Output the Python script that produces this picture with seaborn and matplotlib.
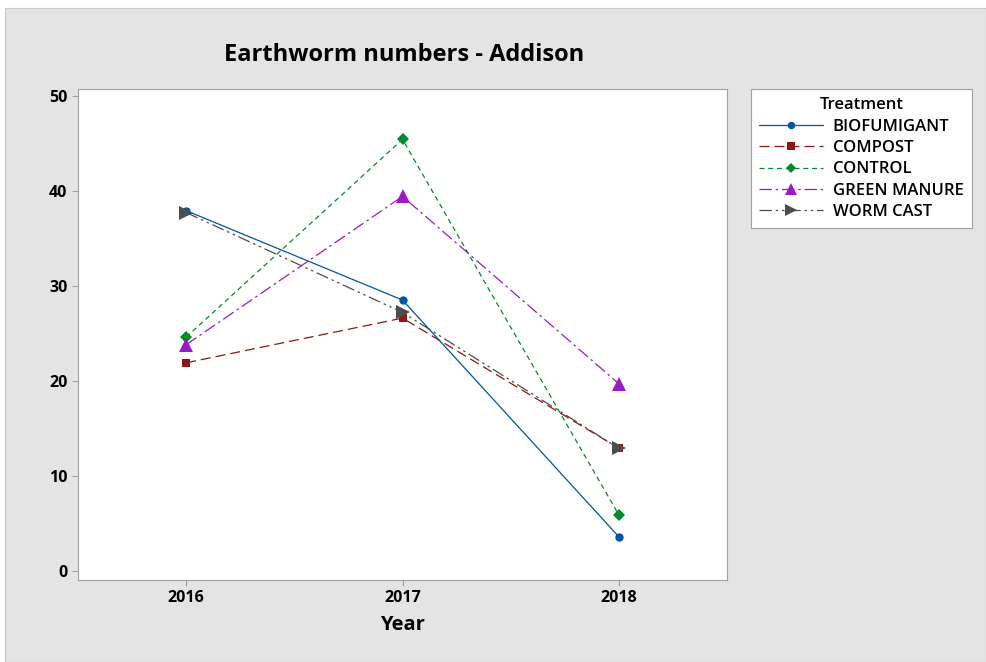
import pandas as pd
import numpy as np
import matplotlib
matplotlib.use('Agg')
import matplotlib.pyplot as plt
import seaborn as sns
from matplotlib.patches import Rectangle
from matplotlib.lines import Line2D

##### データ
years = [2016, 2017, 2018]
treatments = ['BIOFUMIGANT', 'COMPOST', 'CONTROL', 'GREEN MANURE', 'WORM CAST']
biofumigant = [37.9, 28.5, 3.6]
compost = [21.9, 26.6, 12.9]
control = [24.6, 45.4, 5.9]
green_manure = [23.8, 39.4, 19.7]
worm_cast = [37.7, 27.2, 12.9]

df = pd.DataFrame({
    'Year': years * 5,
    'Treatment': np.repeat(treatments, 3),
    'Count': biofumigant + compost + control + green_manure + worm_cast,
})

##### スタイル
palette = {'BIOFUMIGANT': '#0055A5', 'COMPOST': '#8E1616', 'CONTROL': '#008A2E',
           'GREEN MANURE': '#9A1AC8', 'WORM CAST': '#4D4D4D'}
markers = {'BIOFUMIGANT': 'o', 'COMPOST': 's', 'CONTROL': 'D',
           'GREEN MANURE': '^', 'WORM CAST': '>'}
msizes = {'BIOFUMIGANT': 6, 'COMPOST': 6, 'CONTROL': 6, 'GREEN MANURE': 10, 'WORM CAST': 10}
dashes = {'BIOFUMIGANT': '', 'COMPOST': (8, 4), 'CONTROL': (4, 3),
          'GREEN MANURE': (10, 3, 2, 3), 'WORM CAST': (10, 3, 2, 3, 2, 3)}

sns.set_style('ticks')
plt.rcParams['font.family'] = ['Open Sans', 'DejaVu Sans']
plt.rcParams['text.color'] = 'black'
plt.rcParams['axes.labelcolor'] = 'black'

fig = plt.figure(figsize=(9.86, 6.62), dpi=100)
fig.patch.set_facecolor('white')
fig.patches.append(Rectangle((5/986, 0), 981/986, 1 - 8/662, transform=fig.transFigure,
                             facecolor='#E4E4E4', edgecolor='#C8C8C8', lw=0.8, zorder=-10))
ax = fig.add_axes([78/986, 1 - 580/662, 649/986, 491/662])
ax.set_facecolor('white')

for t in treatments:
    sub = df[df['Treatment'] == t]
    sns.lineplot(data=sub, x='Year', y='Count', color=palette[t], marker=markers[t],
                 markersize=msizes[t], markeredgewidth=0, lw=0.9, ax=ax, legend=False)
    ax.lines[-1].set_linestyle('-' if not dashes[t] else (0, dashes[t]))

ax.set_xlim(2015.5, 2018.5)
ax.set_ylim(-0.95, 50.7)
ax.set_xticks(years)
ax.set_xticklabels([str(y) for y in years], fontsize=11.5, fontweight='bold')
ax.set_yticks([0, 10, 20, 30, 40, 50])
ax.set_yticklabels(['0', '10', '20', '30', '40', '50'], fontsize=11.5, fontweight='bold')
ax.set_xlabel('Year', fontsize=14.5, fontweight='bold', labelpad=6)
ax.set_ylabel('')
for s in ax.spines.values():
    s.set_color('#A0A0A0')
    s.set_linewidth(0.8)
ax.tick_params(colors='#A0A0A0', labelcolor='black', length=4)

fig.text(404/986, 1 - 55/662, 'Earthworm numbers - Addison', ha='center', va='center',
         fontsize=17, fontweight='bold', color='black')

handles = [Line2D([], [], color=palette[t], marker=markers[t], markersize=msizes[t] * 0.9,
                  markeredgewidth=0, lw=0.9,
                  linestyle='-' if not dashes[t] else (0, dashes[t])) for t in treatments]
leg = fig.legend(handles, treatments, title='Treatment', loc='upper left',
                 bbox_to_anchor=(751/986, 1 - 89/662), borderaxespad=0,
                 frameon=True, fancybox=False,
                 fontsize=12, title_fontsize=12, handlelength=3.8,
                 borderpad=0.5, labelspacing=0.32, handletextpad=0.6, framealpha=1)
leg.get_frame().set_edgecolor('#A0A0A0')
leg.get_frame().set_facecolor('white')
leg.get_frame().set_linewidth(0.8)
leg.get_title().set_fontweight('semibold')
for txt in leg.get_texts():
    txt.set_fontweight('semibold')

fig.savefig('out.png', dpi=100)
